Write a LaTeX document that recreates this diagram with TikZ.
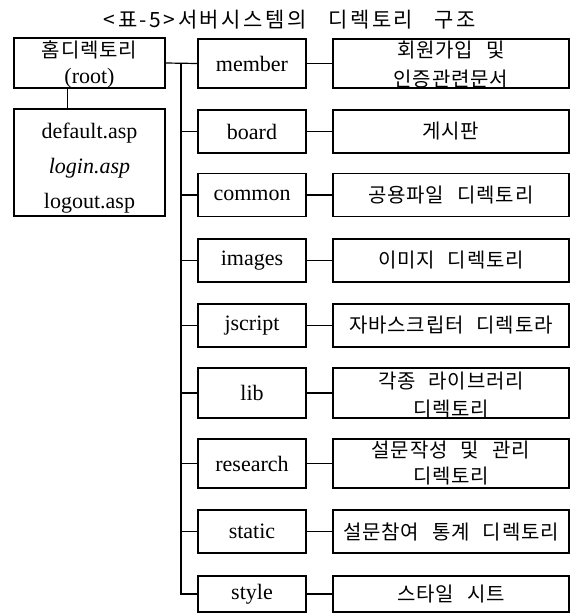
\documentclass[tikz,border=0pt]{standalone}
\usepackage{fontspec}
\setmainfont{Liberation Serif}
\newfontfamily\kr{Noto Sans CJK KR}[LetterSpace=4,WordSpace=2.5]
\newfontfamily\krt{Noto Sans CJK KR}[LetterSpace=12,WordSpace=3]
\begin{document}
\begin{tikzpicture}[x=1pt,y=-1pt,
  frame/.style={draw,line width=1.2pt,inner sep=0pt},
  midbox/.style={frame,minimum width=108pt,minimum height=43pt,font=\fontsize{22}{24}\selectfont},
  rightbox/.style={frame,minimum width=236pt,minimum height=43pt,font=\kr\fontsize{20}{22}\selectfont},
  lefttext/.style={inner sep=0pt,font=\fontsize{22}{24}\selectfont},
  ktext/.style={inner sep=0pt,font=\kr\fontsize{20}{22}\selectfont},
  conn/.style={line width=1.2pt}]
\useasboundingbox (0,0) rectangle (572,616);

% title
\node[inner sep=0pt,font=\krt\fontsize{21}{23}\selectfont] (title) at (290,20) {<표-5>서버시스템의 디렉토리 구조};

% left column
\node[frame,minimum width=151pt,minimum height=50pt] (root) at (89.5,63) {};
\node[ktext] (rootk) at (89.5,50) {홈디렉토리};
\node[lefttext] (rootl) at (89.5,78) {(root)};
\node[frame,minimum width=151pt,minimum height=107pt] (files) at (89.5,162.5) {};
\node[lefttext] (f1) at (89.5,133) {default.asp};
\node[lefttext] (f2) at (89.5,168) {\itshape login.asp};
\node[lefttext] (f3) at (89.5,203) {logout.asp};

% middle column
\node[midbox,minimum height=49pt] (member) at (252,63.5) {member};
\node[midbox] (board) at (252,131.5) {board};
\node[midbox] (common) at (252,195) {common};
\node[midbox] (images) at (252,260.5) {images};
\node[midbox] (jscript) at (252,325.5) {jscript};
\node[midbox,minimum height=50pt] (lib) at (252,393) {lib};
\node[midbox,minimum height=49pt] (research) at (252,463.5) {research};
\node[midbox] (static) at (252,531.5) {static};
\node[midbox,minimum height=36pt] (style) at (252,594) {style};

% right column
\node[rightbox,minimum height=49pt] (rmember) at (451,63.5) {};
\node[ktext] (rmember1) at (451,50) {회원가입 및};
\node[ktext] (rmember2) at (451,79) {인증관련문서};
\node[rightbox] (rboard) at (451,131.5) {게시판};
\node[rightbox] (rcommon) at (451,195) {공용파일 디렉토리};
\node[rightbox] (rimages) at (451,260.5) {이미지 디렉토리};
\node[rightbox] (rjscript) at (451,325.5) {자바스크립터 디렉토라};
\node[rightbox,minimum height=50pt] (rlib) at (451,393) {};
\node[ktext] (rlib1) at (451,381) {각종 라이브러리};
\node[ktext] (rlib2) at (451,409) {디렉토리};
\node[rightbox,minimum height=49pt] (rresearch) at (451,463.5) {};
\node[ktext] (rresearch1) at (451,450) {설문작성 및 관리};
\node[ktext] (rresearch2) at (451,476) {디렉토리};
\node[rightbox] (rstatic) at (451,531.5) {설문참여 통계 디렉토리};
\node[rightbox,minimum height=36pt] (rstyle) at (451,594) {스타일 시트};

% connectors
\coordinate (trunk) at (181,0);
\draw[conn] ([xshift=54pt]root.south west) -- ([xshift=54pt]files.north west);
\draw[conn] (root.east) -- (member.west);
\draw[conn] (trunk |- member.west) |- (style.west);
\foreach \n in {board,common,images,jscript,lib,research,static}
  \draw[conn] (trunk |- \n.west) -- (\n.west);
\foreach \n in {member,board,common,images,jscript,lib,research,static,style}
  \draw[conn] (\n.east) -- (r\n.west);
\end{tikzpicture}
\end{document}
